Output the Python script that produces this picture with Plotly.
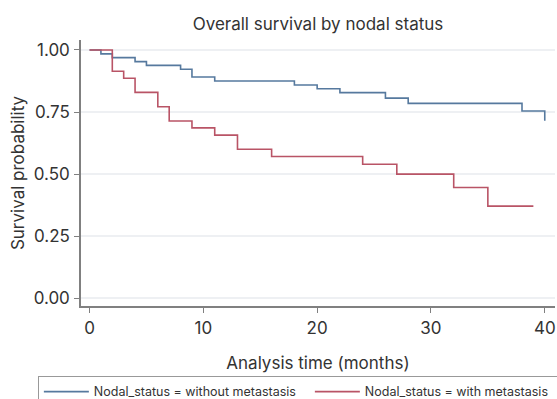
import plotly.graph_objects as go

# Kaplan-Meier estimates
time_without = [0, 1, 2, 4, 5, 8, 9, 11, 18, 20, 22, 26, 28, 38, 40]
surv_without = [1.0, 0.984, 0.969, 0.953, 0.938, 0.922, 0.891, 0.875, 0.859, 0.844, 0.828, 0.806, 0.785, 0.754, 0.715]

time_with = [0, 2, 3, 4, 6, 7, 9, 11, 13, 16, 24, 27, 32, 35, 39]
surv_with = [1.0, 0.914, 0.886, 0.829, 0.771, 0.714, 0.686, 0.657, 0.600, 0.571, 0.540, 0.500, 0.446, 0.371, 0.371]

series_names = ["Nodal_status = without metastasis", "Nodal_status = with metastasis"]
x_ticks = [0, 10, 20, 30, 40]
y_ticks = [0.0, 0.25, 0.5, 0.75, 1.0]
y_tick_labels = ["0.00", "0.25", "0.50", "0.75", "1.00"]

FONT = "Inter, Liberation Sans, Arial, sans-serif"
BLUE = "#56799e"
RED = "#b95466"
AXIS = "#808080"
TXT = "#333333"

fig = go.Figure()
fig.add_trace(go.Scatter(x=time_without, y=surv_without, mode="lines",
                         line=dict(shape="hv", color=BLUE, width=1.6),
                         name=series_names[0]))
fig.add_trace(go.Scatter(x=time_with, y=surv_with, mode="lines",
                         line=dict(shape="hv", color=RED, width=1.6),
                         name=series_names[1]))

fig.update_layout(
    width=557, height=399,
    margin=dict(l=81, r=2, t=40, b=93, autoexpand=False),
    paper_bgcolor="white", plot_bgcolor="white",
    font=dict(family=FONT, size=17, color=TXT),
    title=dict(text="Overall survival by nodal status", x=0.5, xref="paper",
               xanchor="center", y=0.955, yanchor="top",
               font=dict(family=FONT, size=17, color=TXT)),
    xaxis=dict(range=[-0.75, 40.9], tickvals=x_ticks, ticks="outside", ticklen=5,
               tickcolor=AXIS, tickwidth=1.2, showgrid=False, zeroline=False,
               showline=True, linecolor=AXIS, linewidth=1.5, automargin=False,
               tickfont=dict(size=17), ticklabelstandoff=1,
               title=dict(text="Analysis time (months)", standoff=20,
                          font=dict(size=17))),
    yaxis=dict(range=[-0.031, 1.04], tickvals=y_ticks, ticktext=y_tick_labels,
               ticks="outside", ticklen=5, tickcolor=AXIS, tickwidth=1.2,
               showgrid=True, gridcolor="#eef0f3", gridwidth=1.5, zeroline=False,
               showline=True, linecolor=AXIS, linewidth=1.5, automargin=False,
               tickfont=dict(size=17), ticklabelstandoff=1,
               title=dict(text="Survival probability", standoff=5,
                          font=dict(size=17))),
    legend=dict(orientation="h", x=-0.091, xanchor="left", y=-0.263, yanchor="top",
                bordercolor="#999999", borderwidth=1, bgcolor="white",
                font=dict(size=12.5, color=TXT), itemwidth=45,
                entrywidth=211, entrywidthmode="pixels"),
    showlegend=True,
)

fig.write_html("out.html", config={"displayModeBar": False},
               post_script="document.body.style.margin='0';")
